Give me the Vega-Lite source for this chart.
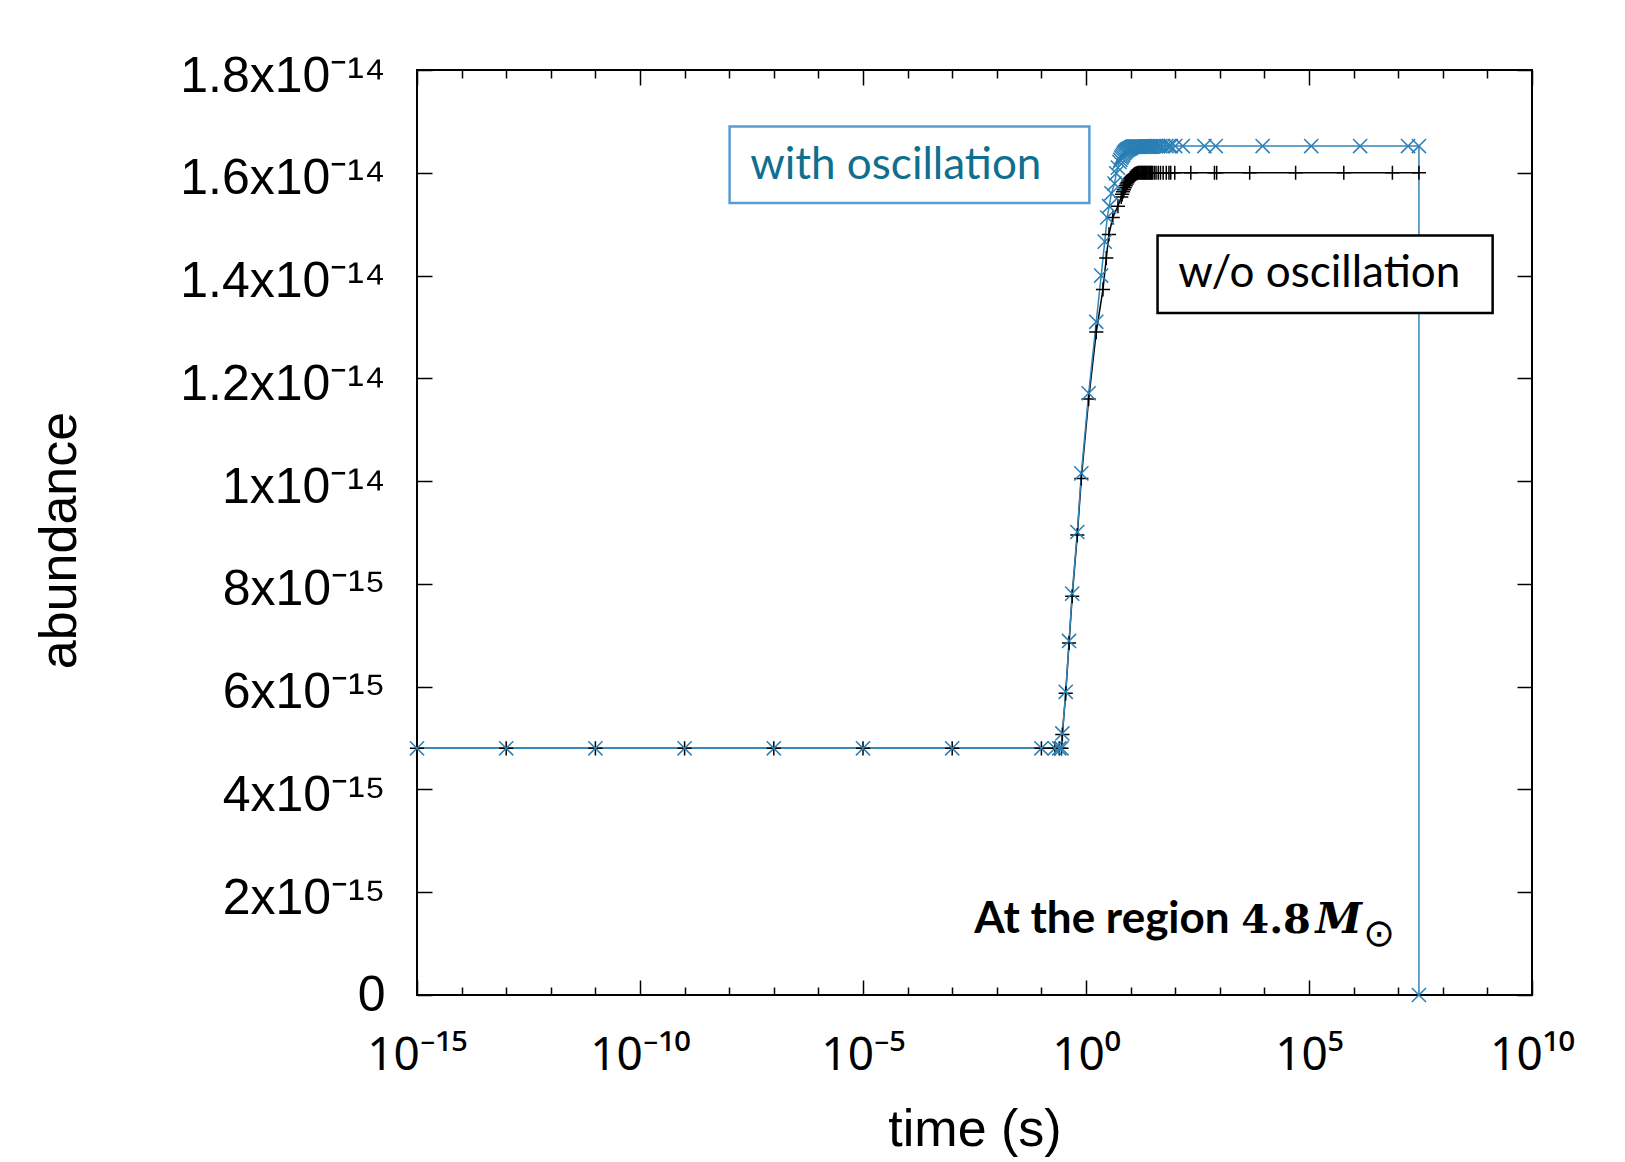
{
  "$schema": "https://vega.github.io/schema/vega-lite/v6.json",
  "width": 1115,
  "height": 925,
  "autosize": {"type": "none"},
  "padding": {"left": 417, "top": 70, "right": 93, "bottom": 167},
  "background": "white",
  "config": {
    "view": {"stroke": "black", "strokeWidth": 2},
    "axis": {"domain": false, "grid": false}
  },
  "data": {
    "values": [
      {"s": "wo", "t": 1e-15, "v": 4.8e-15},
      {"s": "wo", "t": 1e-13, "v": 4.8e-15},
      {"s": "wo", "t": 1e-11, "v": 4.8e-15},
      {"s": "wo", "t": 1e-9, "v": 4.8e-15},
      {"s": "wo", "t": 1e-7, "v": 4.8e-15},
      {"s": "wo", "t": 1e-5, "v": 4.8e-15},
      {"s": "wo", "t": 1e-3, "v": 4.8e-15},
      {"s": "wo", "t": 0.1, "v": 4.8e-15},
      {"s": "wo", "t": 0.2, "v": 4.8e-15},
      {"s": "wo", "t": 0.251, "v": 4.8e-15},
      {"s": "wo", "t": 0.282, "v": 4.8e-15},
      {"s": "wo", "t": 0.295, "v": 5.07e-15},
      {"s": "wo", "t": 0.351, "v": 5.87e-15},
      {"s": "wo", "t": 0.417, "v": 6.85e-15},
      {"s": "wo", "t": 0.49, "v": 7.76e-15},
      {"s": "wo", "t": 0.638, "v": 8.95e-15},
      {"s": "wo", "t": 0.785, "v": 1.005e-14},
      {"s": "wo", "t": 1.148, "v": 1.16e-14},
      {"s": "wo", "t": 1.698, "v": 1.29e-14},
      {"s": "wo", "t": 2.399, "v": 1.373e-14},
      {"s": "wo", "t": 2.851, "v": 1.434e-14},
      {"s": "wo", "t": 3.273, "v": 1.48e-14},
      {"s": "wo", "t": 3.981, "v": 1.513e-14},
      {"s": "wo", "t": 5.2, "v": 1.535e-14},
      {"s": "wo", "t": 6.166, "v": 1.553e-14},
      {"s": "wo", "t": 6.457, "v": 1.558e-14},
      {"s": "wo", "t": 6.761, "v": 1.563e-14},
      {"s": "wo", "t": 7.079, "v": 1.567e-14},
      {"s": "wo", "t": 7.413, "v": 1.571e-14},
      {"s": "wo", "t": 7.762, "v": 1.575e-14},
      {"s": "wo", "t": 8.128, "v": 1.578e-14},
      {"s": "wo", "t": 8.511, "v": 1.581e-14},
      {"s": "wo", "t": 8.913, "v": 1.584e-14},
      {"s": "wo", "t": 9.333, "v": 1.586e-14},
      {"s": "wo", "t": 9.772, "v": 1.589e-14},
      {"s": "wo", "t": 10.23, "v": 1.591e-14},
      {"s": "wo", "t": 10.72, "v": 1.593e-14},
      {"s": "wo", "t": 11.22, "v": 1.594e-14},
      {"s": "wo", "t": 11.75, "v": 1.596e-14},
      {"s": "wo", "t": 12.3, "v": 1.597e-14},
      {"s": "wo", "t": 12.88, "v": 1.598e-14},
      {"s": "wo", "t": 13.49, "v": 1.599e-14},
      {"s": "wo", "t": 14.13, "v": 1.599e-14},
      {"s": "wo", "t": 14.79, "v": 1.6e-14},
      {"s": "wo", "t": 15.49, "v": 1.6e-14},
      {"s": "wo", "t": 16.22, "v": 1.6e-14},
      {"s": "wo", "t": 16.98, "v": 1.6e-14},
      {"s": "wo", "t": 17.78, "v": 1.6e-14},
      {"s": "wo", "t": 18.62, "v": 1.6e-14},
      {"s": "wo", "t": 19.5, "v": 1.6e-14},
      {"s": "wo", "t": 20.42, "v": 1.6e-14},
      {"s": "wo", "t": 21.38, "v": 1.6e-14},
      {"s": "wo", "t": 22.39, "v": 1.6e-14},
      {"s": "wo", "t": 23.44, "v": 1.6e-14},
      {"s": "wo", "t": 24.55, "v": 1.6e-14},
      {"s": "wo", "t": 25.7, "v": 1.6e-14},
      {"s": "wo", "t": 26.92, "v": 1.6e-14},
      {"s": "wo", "t": 28.18, "v": 1.6e-14},
      {"s": "wo", "t": 29.51, "v": 1.6e-14},
      {"s": "wo", "t": 30.9, "v": 1.6e-14},
      {"s": "wo", "t": 33.88, "v": 1.6e-14},
      {"s": "wo", "t": 37.15, "v": 1.6e-14},
      {"s": "wo", "t": 41.69, "v": 1.6e-14},
      {"s": "wo", "t": 46.77, "v": 1.6e-14},
      {"s": "wo", "t": 53.7, "v": 1.6e-14},
      {"s": "wo", "t": 63.1, "v": 1.6e-14},
      {"s": "wo", "t": 72.44, "v": 1.6e-14},
      {"s": "wo", "t": 79.43, "v": 1.6e-14},
      {"s": "wo", "t": 97.7, "v": 1.6e-14},
      {"s": "wo", "t": 223.9, "v": 1.6e-14},
      {"s": "wo", "t": 758.6, "v": 1.6e-14},
      {"s": "wo", "t": 851.1, "v": 1.6e-14},
      {"s": "wo", "t": 4677, "v": 1.6e-14},
      {"s": "wo", "t": 50120, "v": 1.6e-14},
      {"s": "wo", "t": 602600, "v": 1.6e-14},
      {"s": "wo", "t": 7413000, "v": 1.6e-14},
      {"s": "wo", "t": 29170000, "v": 1.6e-14},
      {"s": "with", "t": 1e-15, "v": 4.8e-15},
      {"s": "with", "t": 1e-13, "v": 4.8e-15},
      {"s": "with", "t": 1e-11, "v": 4.8e-15},
      {"s": "with", "t": 1e-9, "v": 4.8e-15},
      {"s": "with", "t": 1e-7, "v": 4.8e-15},
      {"s": "with", "t": 1e-5, "v": 4.8e-15},
      {"s": "with", "t": 1e-3, "v": 4.8e-15},
      {"s": "with", "t": 0.1, "v": 4.8e-15},
      {"s": "with", "t": 0.2, "v": 4.8e-15},
      {"s": "with", "t": 0.251, "v": 4.8e-15},
      {"s": "with", "t": 0.282, "v": 4.8e-15},
      {"s": "with", "t": 0.295, "v": 5.09e-15},
      {"s": "with", "t": 0.351, "v": 5.9e-15},
      {"s": "with", "t": 0.417, "v": 6.89e-15},
      {"s": "with", "t": 0.49, "v": 7.81e-15},
      {"s": "with", "t": 0.638, "v": 9.01e-15},
      {"s": "with", "t": 0.785, "v": 1.015e-14},
      {"s": "with", "t": 1.148, "v": 1.171e-14},
      {"s": "with", "t": 1.698, "v": 1.31e-14},
      {"s": "with", "t": 2.188, "v": 1.4e-14},
      {"s": "with", "t": 2.63, "v": 1.466e-14},
      {"s": "with", "t": 2.992, "v": 1.513e-14},
      {"s": "with", "t": 3.311, "v": 1.535e-14},
      {"s": "with", "t": 3.715, "v": 1.56e-14},
      {"s": "with", "t": 4.365, "v": 1.579e-14},
      {"s": "with", "t": 4.764, "v": 1.599e-14},
      {"s": "with", "t": 5.2, "v": 1.61e-14},
      {"s": "with", "t": 5.623, "v": 1.621e-14},
      {"s": "with", "t": 5.888, "v": 1.625e-14},
      {"s": "with", "t": 6.166, "v": 1.629e-14},
      {"s": "with", "t": 6.457, "v": 1.632e-14},
      {"s": "with", "t": 6.761, "v": 1.635e-14},
      {"s": "with", "t": 7.079, "v": 1.638e-14},
      {"s": "with", "t": 7.413, "v": 1.64e-14},
      {"s": "with", "t": 7.762, "v": 1.642e-14},
      {"s": "with", "t": 8.128, "v": 1.644e-14},
      {"s": "with", "t": 8.511, "v": 1.645e-14},
      {"s": "with", "t": 8.913, "v": 1.646e-14},
      {"s": "with", "t": 9.333, "v": 1.647e-14},
      {"s": "with", "t": 9.772, "v": 1.648e-14},
      {"s": "with", "t": 10.23, "v": 1.649e-14},
      {"s": "with", "t": 10.72, "v": 1.65e-14},
      {"s": "with", "t": 11.22, "v": 1.651e-14},
      {"s": "with", "t": 11.75, "v": 1.651e-14},
      {"s": "with", "t": 12.3, "v": 1.651e-14},
      {"s": "with", "t": 12.88, "v": 1.651e-14},
      {"s": "with", "t": 13.49, "v": 1.651e-14},
      {"s": "with", "t": 14.13, "v": 1.651e-14},
      {"s": "with", "t": 14.79, "v": 1.651e-14},
      {"s": "with", "t": 15.49, "v": 1.651e-14},
      {"s": "with", "t": 16.22, "v": 1.651e-14},
      {"s": "with", "t": 16.98, "v": 1.651e-14},
      {"s": "with", "t": 17.78, "v": 1.651e-14},
      {"s": "with", "t": 18.62, "v": 1.651e-14},
      {"s": "with", "t": 19.5, "v": 1.651e-14},
      {"s": "with", "t": 20.42, "v": 1.651e-14},
      {"s": "with", "t": 21.38, "v": 1.651e-14},
      {"s": "with", "t": 22.39, "v": 1.651e-14},
      {"s": "with", "t": 23.44, "v": 1.651e-14},
      {"s": "with", "t": 24.55, "v": 1.651e-14},
      {"s": "with", "t": 25.7, "v": 1.651e-14},
      {"s": "with", "t": 26.92, "v": 1.651e-14},
      {"s": "with", "t": 28.18, "v": 1.651e-14},
      {"s": "with", "t": 29.51, "v": 1.651e-14},
      {"s": "with", "t": 30.9, "v": 1.651e-14},
      {"s": "with", "t": 33.88, "v": 1.652e-14},
      {"s": "with", "t": 37.15, "v": 1.652e-14},
      {"s": "with", "t": 41.69, "v": 1.652e-14},
      {"s": "with", "t": 46.77, "v": 1.652e-14},
      {"s": "with", "t": 53.7, "v": 1.652e-14},
      {"s": "with", "t": 63.1, "v": 1.652e-14},
      {"s": "with", "t": 72.44, "v": 1.652e-14},
      {"s": "with", "t": 79.43, "v": 1.652e-14},
      {"s": "with", "t": 100, "v": 1.652e-14},
      {"s": "with", "t": 147.9, "v": 1.652e-14},
      {"s": "with", "t": 451.9, "v": 1.652e-14},
      {"s": "with", "t": 809.1, "v": 1.652e-14},
      {"s": "with", "t": 9120, "v": 1.652e-14},
      {"s": "with", "t": 112200, "v": 1.652e-14},
      {"s": "with", "t": 1400000, "v": 1.652e-14},
      {"s": "with", "t": 16600000, "v": 1.652e-14},
      {"s": "with", "t": 29170000, "v": 1.652e-14},
      {"s": "with", "t": 29170000, "v": 0}
    ]
  },
  "layer": [
    {
      "transform": [{"filter": "datum.s == 'wo'"}],
      "mark": {"type": "line", "color": "black", "strokeWidth": 1.5},
      "encoding": {
        "x": {
          "field": "t", "type": "quantitative",
          "scale": {"type": "log", "domain": [1e-15, 1e10], "nice": false},
          "axis": {
            "orient": "bottom",
            "values": [1e-15, 1e-14, 1e-13, 1e-12, 1e-11, 1e-10, 1e-9, 1e-8, 1e-7, 1e-6, 1e-5, 1e-4, 1e-3, 1e-2, 1e-1, 1, 10, 100, 1e3, 1e4, 1e5, 1e6, 1e7, 1e8, 1e9, 1e10],
            "tickSize": {"condition": {"test": "round(log(datum.value)/LN10) % 5 == 0", "value": -15}, "value": -8},
            "tickColor": "black", "tickWidth": 1.5,
            "labelExpr": "round(log(datum.value)/LN10) == -15 ? '10⁻¹⁵' : round(log(datum.value)/LN10) == -10 ? '10⁻¹⁰' : round(log(datum.value)/LN10) == -5 ? '10⁻⁵' : round(log(datum.value)/LN10) == 0 ? '10⁰' : round(log(datum.value)/LN10) == 5 ? '10⁵' : round(log(datum.value)/LN10) == 10 ? '10¹⁰' : ''",
            "labelFlush": false, "labelOverlap": false, "labelBound": false, "labelLimit": 0,
            "labelPadding": 53, "labelFont": "Noto Sans", "labelFontSize": 46, "labelColor": "black",
            "title": "time (s)", "titleFont": "Liberation Sans", "titleFontSize": 52, "titleFontWeight": "normal",
            "titleColor": "black", "titleY": 150, "titleBaseline": "alphabetic"
          }
        },
        "y": {
          "field": "v", "type": "quantitative",
          "scale": {"domain": [0, 1.8e-14], "nice": false, "zero": false},
          "axis": {
            "orient": "left",
            "values": [0, 2e-15, 4e-15, 6e-15, 8e-15, 1e-14, 1.2e-14, 1.4e-14, 1.6e-14, 1.8e-14],
            "tickSize": -15, "tickColor": "black", "tickWidth": 1.5,
            "labelExpr": "datum.value == 0 ? '0' : datum.value < 9e-15 ? round(datum.value*1e15) + 'x10⁻¹⁵' : (round(datum.value*1e15)/10) + 'x10⁻¹⁴'",
            "labelPadding": 47, "labelFont": "Liberation Sans", "labelFontSize": 50, "labelColor": "black",
            "labelOffset": {"condition": {"test": "datum.value == 0", "value": 0}, "value": 6},
            "labelOverlap": false, "labelFlush": false, "labelBound": false, "labelLimit": 0,
            "title": "abundance", "titleFont": "Liberation Sans", "titleFontSize": 52, "titleFontWeight": "normal",
            "titleColor": "black", "titleX": -342, "titleY": 470, "titleBaseline": "alphabetic"
          }
        }
      }
    },
    {
      "transform": [{"filter": "datum.s == 'with'"}],
      "mark": {"type": "line", "color": "#3386b8", "strokeWidth": 1.5},
      "encoding": {
        "x": {
          "field": "t", "type": "quantitative",
          "axis": {
            "orient": "top",
            "values": [1e-15, 1e-14, 1e-13, 1e-12, 1e-11, 1e-10, 1e-9, 1e-8, 1e-7, 1e-6, 1e-5, 1e-4, 1e-3, 1e-2, 1e-1, 1, 10, 100, 1e3, 1e4, 1e5, 1e6, 1e7, 1e8, 1e9, 1e10],
            "tickSize": {"condition": {"test": "round(log(datum.value)/LN10) % 5 == 0", "value": -15}, "value": -8},
            "tickColor": "black", "tickWidth": 1.5, "labels": false, "title": null
          }
        },
        "y": {
          "field": "v", "type": "quantitative",
          "axis": {
            "orient": "right",
            "values": [0, 2e-15, 4e-15, 6e-15, 8e-15, 1e-14, 1.2e-14, 1.4e-14, 1.6e-14, 1.8e-14],
            "tickSize": -15, "tickColor": "black", "tickWidth": 1.5, "labels": false, "title": null
          }
        }
      }
    },
    {
      "transform": [{"filter": "datum.s == 'wo'"}],
      "mark": {"type": "point", "shape": "M-1,0L1,0M0,-1L0,1", "filled": false, "size": 200, "strokeWidth": 1.5, "color": "black", "opacity": 1},
      "encoding": {
        "x": {"field": "t", "type": "quantitative", "axis": null},
        "y": {"field": "v", "type": "quantitative", "axis": null}
      }
    },
    {
      "transform": [{"filter": "datum.s == 'with'"}],
      "mark": {"type": "point", "shape": "M-1,-1L1,1M-1,1L1,-1", "filled": false, "size": 200, "strokeWidth": 1.5, "color": "#2a7fb5", "opacity": 1},
      "encoding": {
        "x": {"field": "t", "type": "quantitative", "axis": null},
        "y": {"field": "v", "type": "quantitative", "axis": null}
      }
    },
    {
      "data": {"values": [
        {"box": "with", "t": 1.02e-8, "t2": 1.19, "v": 1.69e-14, "v2": 1.541e-14},
        {"box": "wo", "t": 40.2, "t2": 1.31e9, "v": 1.478e-14, "v2": 1.327e-14}
      ]},
      "mark": {"type": "rect", "fill": "white", "strokeWidth": 2.5},
      "encoding": {
        "x": {"field": "t", "type": "quantitative", "axis": null},
        "x2": {"field": "t2"},
        "y": {"field": "v", "type": "quantitative", "axis": null},
        "y2": {"field": "v2"},
        "stroke": {"field": "box", "type": "nominal", "scale": {"domain": ["with", "wo"], "range": ["#5b9bd5", "black"]}, "legend": null}
      }
    },
    {
      "data": {"values": [
        {"label": "with oscillation", "kind": "with", "t": 2.95e-8, "v": 1.613e-14},
        {"label": "w/o oscillation", "kind": "wo", "t": 117, "v": 1.4035e-14}
      ]},
      "mark": {"type": "text", "align": "left", "baseline": "middle", "font": "Lato", "fontSize": 44},
      "encoding": {
        "x": {"field": "t", "type": "quantitative", "axis": null},
        "y": {"field": "v", "type": "quantitative", "axis": null},
        "text": {"field": "label"},
        "color": {"field": "kind", "type": "nominal", "scale": {"domain": ["with", "wo"], "range": ["#106f8e", "black"]}, "legend": null}
      }
    },
    {
      "data": {"values": [{"label": "At the region", "t": 3.12e-3, "v": 1.21e-15}]},
      "mark": {"type": "text", "align": "left", "baseline": "alphabetic", "font": "Lato", "fontWeight": "bold", "fontSize": 44, "color": "black"},
      "encoding": {
        "x": {"field": "t", "type": "quantitative", "axis": null},
        "y": {"field": "v", "type": "quantitative", "axis": null},
        "text": {"field": "label"}
      }
    },
    {
      "data": {"values": [{"label": "4.8", "t": 3041, "v": 1.21e-15}]},
      "mark": {"type": "text", "align": "left", "baseline": "alphabetic", "font": "DejaVu Serif", "fontWeight": "bold", "fontSize": 40, "color": "black"},
      "encoding": {
        "x": {"field": "t", "type": "quantitative", "axis": null},
        "y": {"field": "v", "type": "quantitative", "axis": null},
        "text": {"field": "label"}
      }
    },
    {
      "data": {"values": [{"label": "M", "t": 139600, "v": 1.21e-15}]},
      "mark": {"type": "text", "align": "left", "baseline": "alphabetic", "font": "DejaVu Serif", "fontWeight": "bold", "fontStyle": "italic", "fontSize": 42, "color": "black"},
      "encoding": {
        "x": {"field": "t", "type": "quantitative", "axis": null},
        "y": {"field": "v", "type": "quantitative", "axis": null},
        "text": {"field": "label"}
      }
    },
    {
      "data": {"values": [{"label": "⊙", "t": 1656000, "v": 0.95e-15}]},
      "mark": {"type": "text", "align": "left", "baseline": "alphabetic", "font": "DejaVu Sans", "fontSize": 38, "color": "black"},
      "encoding": {
        "x": {"field": "t", "type": "quantitative", "axis": null},
        "y": {"field": "v", "type": "quantitative", "axis": null},
        "text": {"field": "label"}
      }
    }
  ],
  "resolve": {"axis": {"x": "independent", "y": "independent"}}
}
